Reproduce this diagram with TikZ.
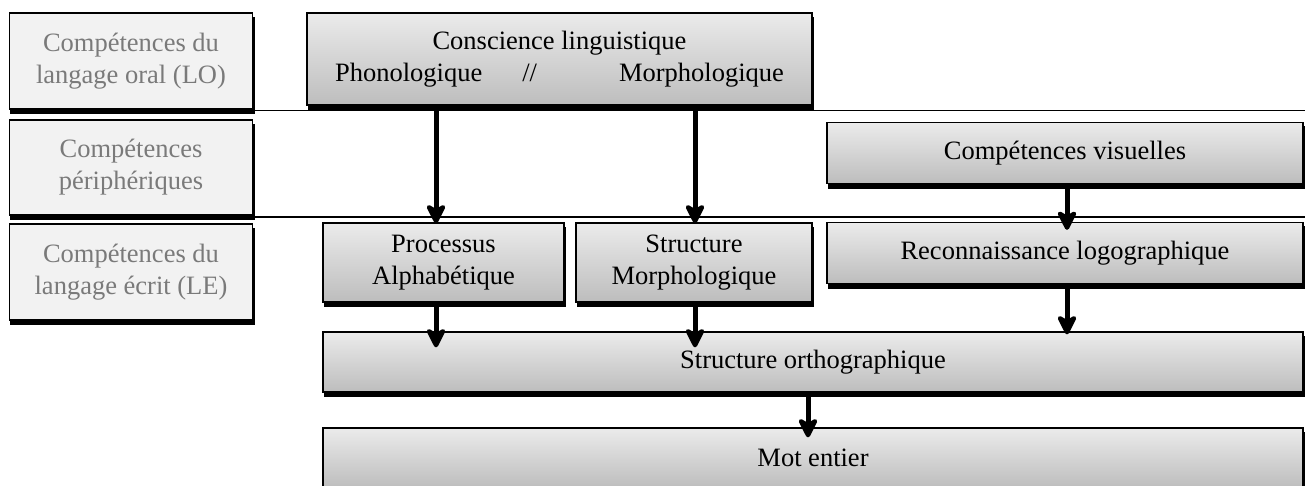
\documentclass[tikz,border=0pt]{standalone}
\usepackage{fontspec}
\setmainfont{Liberation Serif}
\usetikzlibrary{arrows.meta,calc}
\pgfdeclarelayer{bg}
\pgfsetlayers{bg,main}
\definecolor{leftfill}{HTML}{F2F2F2}
\definecolor{lefttext}{HTML}{7A7A7A}
\definecolor{gtop}{HTML}{EBEBEB}
\definecolor{gbot}{HTML}{BDBDBD}
\tikzset{
  base/.style={draw=black,line width=1.3pt,inner sep=0pt,align=center,
    font=\fontsize{26.5}{32}\selectfont},
  levelbox/.style={base,fill=leftfill,text=lefttext},
  procbox/.style={base,top color=gtop,bottom color=gbot,text=black},
  arr/.style={line width=5pt,-{Stealth[length=24pt,width=24pt,inset=7pt,round]}},
  sep/.style={line width=1.5pt},
  shadowfill/.style={fill=black}
}
\begin{document}
\begin{tikzpicture}[x=1pt,y=-1pt]
\useasboundingbox (0,0) rectangle (1309,485);
\clip (0,0) rectangle (1309,485);
% left level boxes
\node[levelbox,minimum width=243pt,minimum height=96pt] (lo) at (131,61) {Compétences du\\langage oral (LO)};
\node[levelbox,minimum width=243pt,minimum height=95pt] (per) at (131,167.5) {Compétences\\périphériques};
\node[levelbox,minimum width=243pt,minimum height=96pt] (le) at (131,272) {Compétences du\\langage écrit (LE)};
% process boxes
\node[procbox,minimum width=505pt,minimum height=92pt] (cons) at (559.5,59) {Conscience linguistique\\Phonologique\hspace{40pt}//\hspace{82pt}Morphologique};
\node[procbox,minimum width=476pt,minimum height=61pt] (vis) at (1065,153) {Compétences visuelles};
\node[procbox,minimum width=241pt,minimum height=79pt] (proc) at (443.5,262.5) {Processus\\Alphabétique};
\node[procbox,minimum width=236pt,minimum height=79pt] (morph) at (694,262.5) {Structure\\Morphologique};
\node[procbox,minimum width=476pt,minimum height=61pt] (reco) at (1065,253) {Reconnaissance logographique};
\node[procbox,minimum width=980pt,minimum height=60pt] (ortho) at (813,362) {Structure orthographique};
\node[procbox,minimum width=980pt,minimum height=60pt] (mot) at (813,458) {Mot entier};
% separator lines and shadows behind
\begin{pgfonlayer}{bg}
\coordinate (s1a) at (252,110.5);
\coordinate (s1b) at (1305,110.5);
\coordinate (s2a) at (252,217);
\coordinate (s2b) at (1305,217);
\draw[sep] (s1a) -- (s1b);
\draw[sep] (s2a) -- (s2b);
\foreach \n in {lo,per,le,cons,vis,proc,morph,reco,ortho,mot}{
  \fill[shadowfill] ($(\n.south west)+(1.5,4.5)$) rectangle ($(\n.north east)+(1.8,4.5)$);
}
\end{pgfonlayer}
% arrows
\draw[arr] ($(proc.north |- cons.south)+(-7.5,0)$) -- ($(proc.north)+(-7.5,1)$);
\draw[arr] ($(morph.north |- cons.south)+(1,0)$) -- ($(morph.north)+(1,1)$);
\draw[arr] ($(vis.south)+(2,0)$) -- ($(reco.north)+(2,8)$);
\draw[arr] ($(proc.south)+(-7.5,0)$) -- ($(proc.south |- ortho.north)+(-7.5,16)$);
\draw[arr] ($(morph.south)+(1,0)$) -- ($(morph.south |- ortho.north)+(1,16)$);
\draw[arr] ($(reco.south)+(2,0)$) -- ($(reco.south |- ortho.north)+(2,3)$);
\draw[arr] ($(ortho.south)+(-5,0)$) -- ($(mot.north)+(-5,10)$);
\end{tikzpicture}
\end{document}
